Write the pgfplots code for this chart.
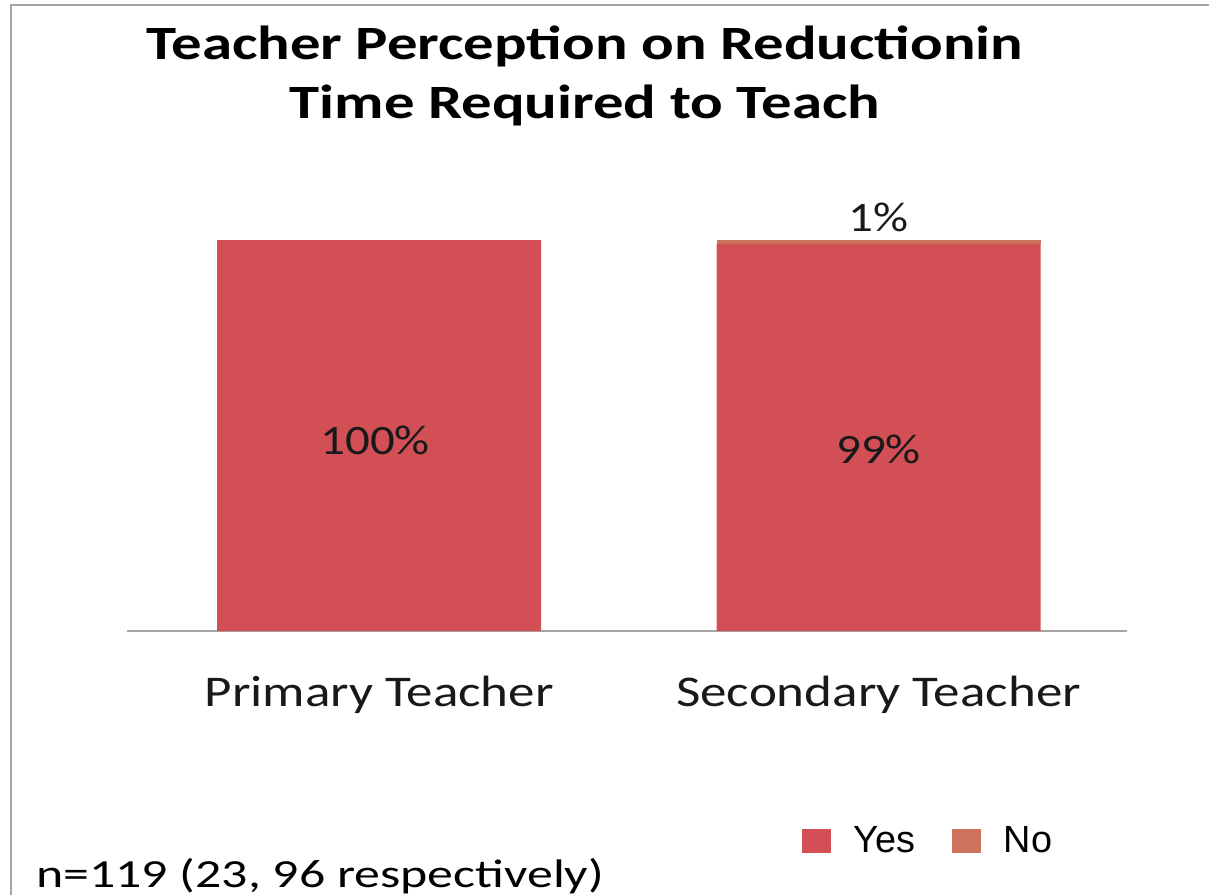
\documentclass[border=0pt]{standalone}
\usepackage{fontspec}
\usepackage{pgfplots}
\pgfplotsset{compat=1.18}
\setmainfont{Carlito}
\newfontfamily\titlef[FakeStretch=1.27]{Carlito}
\newfontfamily\catf[FakeStretch=1.21]{Carlito}
\newfontfamily\labf[FakeStretch=1.17]{Carlito}
\newfontfamily\notef[FakeStretch=1.3]{Carlito}
\newfontfamily\arialf{Liberation Sans}
\definecolor{yescol}{RGB}{209,79,85}
\definecolor{nocol}{RGB}{206,115,92}
\definecolor{framegray}{RGB}{165,165,165}
\definecolor{txt}{RGB}{25,25,25}

\begin{document}
\begin{tikzpicture}
\begin{scope}[x=0.5bp,y=-0.5bp]
  \useasboundingbox (0,0) rectangle (1209,895);
  \draw[framegray, line width=1.2bp] (11,895) -- (11,5) -- (1209,5);
  \node[font=\titlef\bfseries\fontsize{24}{30}\selectfont, align=center, text=black]
    at (585,76) {Teacher Perception on Reductionin\\Time Required to Teach};
  \node[font=\notef\fontsize{20}{24}\selectfont, anchor=base west, inner sep=0pt, text=black]
    at (36,887) {n=119 (23, 96 respectively)};
\end{scope}

\begin{axis}[
    at={(63.5bp,-315.5bp)}, anchor=south west,
    scale only axis,
    width=500bp, height=195.5bp,
    ybar stacked,
    bar width=162bp,
    ymin=0, ymax=100,
    xmin=-0.505, xmax=1.4975,
    hide y axis,
    axis x line*=bottom,
    x axis line style={-, framegray, line width=1bp},
    xtick={0,1},
    xticklabels={Primary Teacher, Secondary Teacher},
    major tick length=0pt,
    xticklabel style={font=\catf\fontsize{22}{26}\selectfont, text=txt, yshift=-19bp},
    legend style={at={(rel axis cs:0.802,-0.537)}, anchor=center, draw=none,
        font=\arialf\fontsize{19}{22}\selectfont, legend columns=2,
        /tikz/every even column/.append style={column sep=16bp}},
    legend image code/.code={\fill[#1, draw=none] (0bp,-6bp) rectangle (14.5bp,6bp);
        \path[draw=none, fill=none] (0bp,-6bp) rectangle (24bp,6bp);},
    clip=false,
]
\addplot[fill=yescol, draw=none] coordinates {(0,100) (1,99)};
\addplot[fill=nocol, draw=none] coordinates {(0,0) (1,1)};
\legend{Yes, No}
\coordinate (lpa) at (axis cs:0,48.8);
\coordinate (lpb) at (axis cs:1,46.4);
\coordinate (lpc) at (axis cs:1,105.75);
\end{axis}
\node[font=\labf\fontsize{21}{25}\selectfont, text=txt] at ([xshift=-2bp]lpa) {100\%};
\node[font=\labf\fontsize{21}{25}\selectfont, text=txt] at (lpb) {99\%};
\node[font=\labf\fontsize{21}{25}\selectfont, text=txt] at (lpc) {1\%};
\end{tikzpicture}
\end{document}
